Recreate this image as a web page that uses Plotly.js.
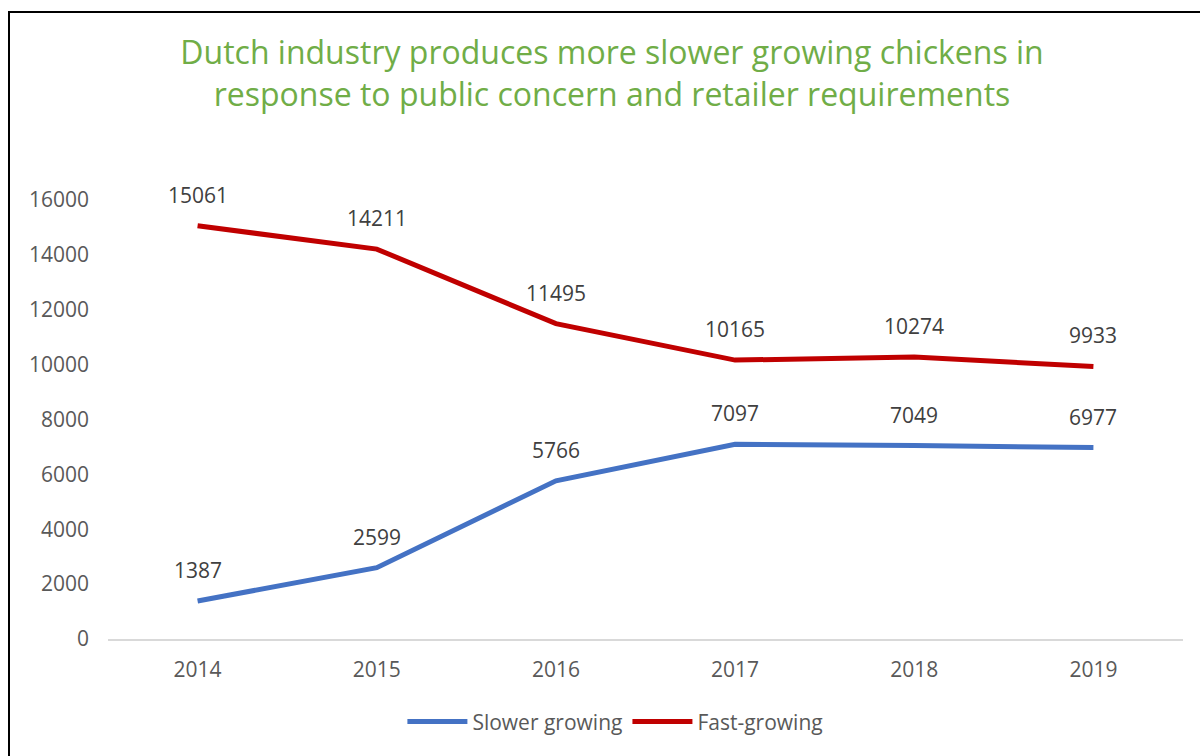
<!DOCTYPE html>
<html>
<head>
<meta charset="utf-8">
<script src="https://cdn.plot.ly/plotly-3.0.1.min.js"></script>
<style>
  html, body { margin: 0; padding: 0; background: #fff; }
  #wrap { position: relative; width: 1200px; height: 756px; overflow: hidden; }
  #chart { position: absolute; left: 0; top: 0; width: 1200px; height: 756px; }
  #frame { position: absolute; left: 8px; top: 11px; width: 1300px; height: 900px;
           border-left: 2px solid #000; border-top: 2px solid #000; pointer-events: none; }
</style>
</head>
<body>
<div id="wrap">
  <div id="chart"></div>
  <div id="frame"></div>
</div>
<script>
const years = ['2014', '2015', '2016', '2017', '2018', '2019'];
const slowerGrowing = [1387, 2599, 5766, 7097, 7049, 6977];
const fastGrowing = [15061, 14211, 11495, 10165, 10274, 9933];
const seriesNames = ['Slower growing', 'Fast-growing'];
const yTicks = [0, 2000, 4000, 6000, 8000, 10000, 12000, 14000, 16000];
const titleText = 'Dutch industry produces more slower growing chickens in<br>response to public concern and retailer requirements';

const FONT = 'Open Sans, Noto Sans, sans-serif';
const BLUE = '#4472C4';
const RED = '#C00000';

const traces = [
  { x: years, y: slowerGrowing, name: seriesNames[0], type: 'scatter', mode: 'lines',
    line: { color: BLUE, width: 5 }, hoverinfo: 'skip' },
  { x: years, y: fastGrowing, name: seriesNames[1], type: 'scatter', mode: 'lines',
    line: { color: RED, width: 5 }, hoverinfo: 'skip' }
];

const annotations = [];
[slowerGrowing, fastGrowing].forEach(series => {
  series.forEach((v, i) => {
    annotations.push({
      x: i, y: v, xref: 'x', yref: 'y', text: String(v), showarrow: false,
      xanchor: 'center', yanchor: 'middle', yshift: 31,
      font: { family: FONT, size: 21, color: '#404040' }
    });
  });
});

const layout = {
  width: 1200, height: 756,
  paper_bgcolor: '#fff', plot_bgcolor: '#fff',
  margin: { l: 108, r: 17, t: 200, b: 117 },
  font: { family: FONT, color: '#595959' },
  title: { text: titleText, font: { family: FONT, size: 32, color: '#70AD47' },
           x: 0.51, xanchor: 'center', y: 0.915, yanchor: 'top', yref: 'container' },
  xaxis: { type: 'category', range: [-0.5, 5.5], showgrid: false, zeroline: false,
           showline: true, linecolor: '#D9D9D9', linewidth: 2,
           tickfont: { family: FONT, size: 21, color: '#595959' }, ticks: '', ticklabelstandoff: 11,
           fixedrange: true },
  yaxis: { range: [0, 16000], tickvals: yTicks, ticktext: yTicks.map(String),
           showgrid: false, zeroline: false, showline: false,
           tickfont: { family: FONT, size: 21, color: '#595959' }, ticks: '', ticklabelstandoff: 18,
           fixedrange: true },
  showlegend: true,
  legend: { orientation: 'h', x: 0.472, xanchor: 'center', y: -0.189, yanchor: 'middle',
            font: { family: FONT, size: 21, color: '#595959' }, itemwidth: 60,
            bgcolor: 'rgba(0,0,0,0)' },
  annotations: annotations
};

Plotly.newPlot('chart', traces, layout, { displayModeBar: false, staticPlot: true });
</script>
</body>
</html>
